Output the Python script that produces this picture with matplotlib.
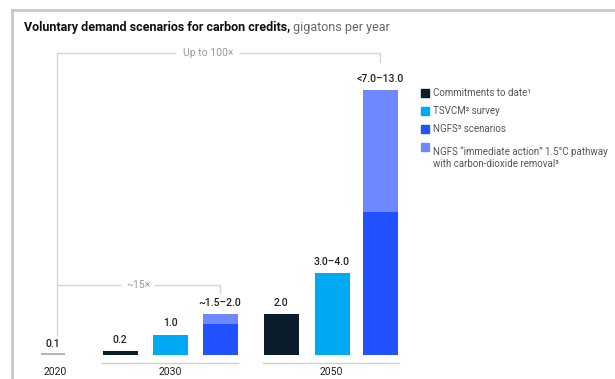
import matplotlib.pyplot as plt
from matplotlib.lines import Line2D

plt.rcParams['font.family'] = ['Roboto', 'DejaVu Sans']

# data (gigatons per year)
years = ["2020", "2030", "2050"]
val_2020 = 0.1
commitments = [0.2, 2.0]      # 2030, 2050
tsvcm = [1.0, 4.0]
ngfs = [1.5, 7.0]
ngfs_cdr_top = [2.0, 13.0]
labels_2030 = ["0.2", "1.0", "~1.5\u20132.0"]
labels_2050 = ["2.0", "3.0\u20134.0", "<7.0\u201313.0"]
legend_labels = ["Commitments to date\u00b9", "TSVCM\u00b2 survey", "NGFS\u00b3 scenarios",
                 "NGFS \u201cimmediate action\u201d 1.5\u00b0C pathway\nwith carbon-dioxide removal\u00b3"]

c_black = "#0b1c2c"
c_cyan = "#00a9f4"
c_blue = "#2251ff"
c_light = "#6e88ff"
c_gray = "#b4b4b4"
c_text = "#222222"

W, H = 615, 379
fig = plt.figure(figsize=(W / 100, H / 100), dpi=100)
ax = fig.add_axes([0, 0, 1, 1])
ax.set_axis_off()

PX = 20.4          # pixels per gigaton
BASE = 355         # baseline, pixels from top
ax.set_xlim(0, W)
ax.set_ylim(-(H - BASE) / PX, BASE / PX)


def py(p):
    # pixel row (from top) -> data y
    return (BASE - p) / PX


bw = 35
x30 = [120, 170, 220]
x50 = [281, 332, 380]

# 2020
ax.bar(53, val_2020, width=24, color=c_gray)
ax.text(53, val_2020 + 0.2, "0.1", ha='center', va='bottom', fontsize=7.5,
        fontweight='medium', color=c_text)

# 2030 and 2050 groups
for xs, i, labs in [(x30, 0, labels_2030), (x50, 1, labels_2050)]:
    ax.bar(xs[0], commitments[i], width=bw, color=c_black)
    ax.bar(xs[1], tsvcm[i], width=bw, color=c_cyan)
    ax.bar(xs[2], ngfs[i], width=bw, color=c_blue)
    ax.bar(xs[2], ngfs_cdr_top[i] - ngfs[i], bottom=ngfs[i], width=bw, color=c_light)
    tops = [commitments[i], tsvcm[i], ngfs_cdr_top[i]]
    for x, t, lab in zip(xs, tops, labs):
        ax.text(x, t + 0.3, lab, ha='center', va='bottom', fontsize=7.5,
                fontweight='medium', color=c_text)

# group underlines and year labels
ax.plot([102, 238], [py(363)] * 2, color="#d0d0d0", lw=1)
ax.plot([263, 399], [py(363)] * 2, color="#d0d0d0", lw=1)
for x, y in zip([55, 170, 331], years):
    ax.text(x, py(367), y, ha='center', va='top', fontsize=7.5, color=c_text)

# brackets
bc = "#d4d4d4"
ax.plot([57, 57, 175], [py(335), py(53), py(53)], color=bc, lw=1)
ax.plot([240, 380, 380], [py(53), py(53), py(62)], color=bc, lw=1)
ax.text(208, py(53), "Up to 100\u00d7", ha='center', va='center', fontsize=7.5, color="#999999")
ax.plot([57, 120], [py(285)] * 2, color=bc, lw=1)
ax.plot([155, 220, 220], [py(285), py(285), py(293)], color=bc, lw=1)
ax.text(138, py(285), "~15\u00d7", ha='center', va='center', fontsize=7.5, color="#999999")

# legend
for j, (lab, col) in enumerate(zip(legend_labels, [c_black, c_cyan, c_blue, c_light])):
    yy = 93 + 18 * j
    ax.add_patch(plt.Rectangle((421, py(yy + 4)), 8, 8 / PX, color=col, clip_on=False))
    ax.text(433, py(yy - 1) if j == 3 else py(yy), lab, ha='left', va='top' if j == 3 else 'center',
            fontsize=7, color="#555555", linespacing=1.35)

# frame and title
fig.add_artist(Line2D([12 / W, 1], [1 - 10 / H] * 2, color="#c8c8c8", lw=2))
fig.add_artist(Line2D([12 / W] * 2, [0, 1 - 10 / H], color="#c8c8c8", lw=2))
fig.text(24 / W, 1 - 27 / H, "Voluntary demand scenarios for carbon credits,", fontsize=9,
         fontweight='bold', color="#111111", va='center')
fig.text(293 / W, 1 - 27 / H, "gigatons per year", fontsize=9, color="#666666", va='center')

fig.savefig("out.png", dpi=100)
